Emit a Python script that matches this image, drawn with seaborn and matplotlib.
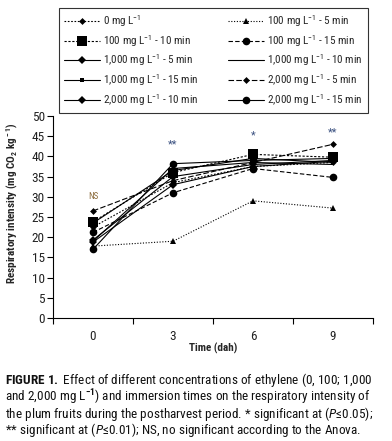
import numpy as np
import pandas as pd
import matplotlib
matplotlib.use("Agg")
import matplotlib.pyplot as plt
import seaborn as sns

# data
days = ["0", "3", "6", "9"]
series_names = [
    "0 mg L$^{-1}$",
    "100 mg L$^{-1}$ - 5 min",
    "100 mg L$^{-1}$ - 10 min",
    "100 mg L$^{-1}$ - 15 min",
    "1,000 mg L$^{-1}$ - 5 min",
    "1,000 mg L$^{-1}$ - 10 min",
    "1,000 mg L$^{-1}$ - 15 min",
    "2,000 mg L$^{-1}$ - 5 min",
    "2,000 mg L$^{-1}$ - 10 min",
    "2,000 mg L$^{-1}$ - 15 min",
]
c0 = [22.5, 33.5, 37.5, 38.5]
c100_5 = [17.8, 19.0, 29.0, 27.2]
c100_10 = [23.8, 36.0, 40.5, 39.8]
c100_15 = [21.2, 31.0, 37.0, 34.8]
c1000_5 = [19.3, 35.0, 38.0, 39.0]
c1000_10 = [19.0, 37.0, 38.5, 38.0]
c1000_15 = [23.5, 36.5, 39.5, 38.5]
c2000_5 = [26.5, 34.0, 38.5, 43.0]
c2000_10 = [18.8, 33.0, 37.5, 38.8]
c2000_15 = [17.0, 38.2, 39.0, 39.5]
values = [c0, c100_5, c100_10, c100_15, c1000_5, c1000_10,
          c1000_15, c2000_5, c2000_10, c2000_15]
sig_labels = ["NS", "**", "*", "**"]
sig_y = [30.0, 43.0, 45.3, 46.0]

# marker, markersize, linestyle
styles = [
    ("D", 3.5, (0, (1.5, 1.5))),
    ("^", 5, (0, (1, 1.5))),
    ("s", 7, (0, (2, 1.5))),
    ("o", 5.5, (0, (4, 2))),
    ("D", 4, "-"),
    ("", 0, "-"),
    ("s", 3.5, "-"),
    ("D", 3.5, (0, (5, 2))),
    ("D", 4, "-"),
    ("o", 5.5, "-"),
]

FONT = "Roboto Condensed"
sns.set_style("ticks")
plt.rcParams["font.family"] = [FONT, "DejaVu Sans"]
plt.rcParams["mathtext.fontset"] = "custom"
plt.rcParams["mathtext.rm"] = FONT
plt.rcParams["mathtext.it"] = FONT + ":italic"
plt.rcParams["mathtext.bf"] = FONT + ":bold"

fig = plt.figure(figsize=(3.92, 4.41), dpi=100)
ax = fig.add_axes([53 / 392, 1 - 318 / 441, 320 / 392, 202 / 441])

x = np.arange(len(days))
for name, vals, (mk, ms, ls) in zip(series_names, values, styles):
    df = pd.DataFrame({"x": x, "y": vals})
    sns.lineplot(data=df, x="x", y="y", ax=ax, color="black", lw=0.8,
                 linestyle=ls, marker=mk if mk else None, markersize=ms,
                 markeredgewidth=0, label=name, legend=False)

ax.set_xlim(-0.5, 3.5)
ax.set_ylim(0, 50)
ax.set_yticks(np.arange(0, 51, 5))
ax.set_xticks(x)
ax.set_xticklabels(days)
ax.set_xticks(np.arange(-0.5, 3.6, 1), minor=True)
ax.tick_params(axis="x", which="major", length=0, labelsize=9.5, pad=9, colors="#222")
ax.tick_params(axis="x", which="minor", length=4, width=0.8, direction="out")
ax.tick_params(axis="y", length=4, width=0.8, labelsize=9.5, pad=2, colors="#222")
ax.tick_params(axis="both", which="both", color="black")
for s in ["left", "bottom"]:
    ax.spines[s].set_linewidth(0.8)
    ax.spines[s].set_color("black")
sns.despine(ax=ax)
ax.set_xlabel("")
ax.set_ylabel("")

for i, (lab, yy) in enumerate(zip(sig_labels, sig_y)):
    ax.text(i, yy, lab, ha="center", va="center",
            fontsize=6.5 if lab == "NS" else 8,
            color="#8a6a3a" if lab == "NS" else "#3a5080")

fig.text(213 / 392, 1 - 348 / 441, "Time (dah)", ha="center", va="center",
         fontsize=8, fontweight="bold")
fig.text(12 / 392, 1 - 203 / 441, "Respiratory intensity (mg CO$_{\\bf 2}$ kg$^{\\bf -1}$)",
         rotation=90, ha="center", va="center", fontsize=8, fontweight="bold")

# legend: reorder so the two columns read row by row
handles, labels = ax.get_legend_handles_labels()
order = [0, 2, 4, 6, 8, 1, 3, 5, 7, 9]
leg = fig.legend([handles[i] for i in order], [labels[i] for i in order],
                 ncol=2, loc="upper left",
                 bbox_to_anchor=(53 / 392, 1 - 89 / 441, 321 / 392, 87 / 441),
                 mode="expand", fontsize=8, frameon=True, fancybox=False,
                 edgecolor="black", handlelength=3.2, handletextpad=0.3,
                 labelspacing=0.35, borderpad=0.5, columnspacing=1.0)
leg.get_frame().set_linewidth(0.8)

caption = "\n".join([
    r"$\bf{FIGURE\ 1.}$ Effect of different concentrations of ethylene (0, 100; 1,000",
    r"and 2,000 mg L$^{\mathbf{-1}}$) and immersion times on the respiratory intensity of",
    r"the plum fruits during the postharvest period. * significant at ($\it{P}$≤0.05);",
    r"** significant at ($\it{P}$≤0.01); NS, no significant according to the Anova.",
])
fig.text(5 / 392, 1 - 371 / 441, caption, ha="left", va="top",
         fontsize=9.5, color="#111", linespacing=0.85)

fig.savefig("out.png", dpi=100)
